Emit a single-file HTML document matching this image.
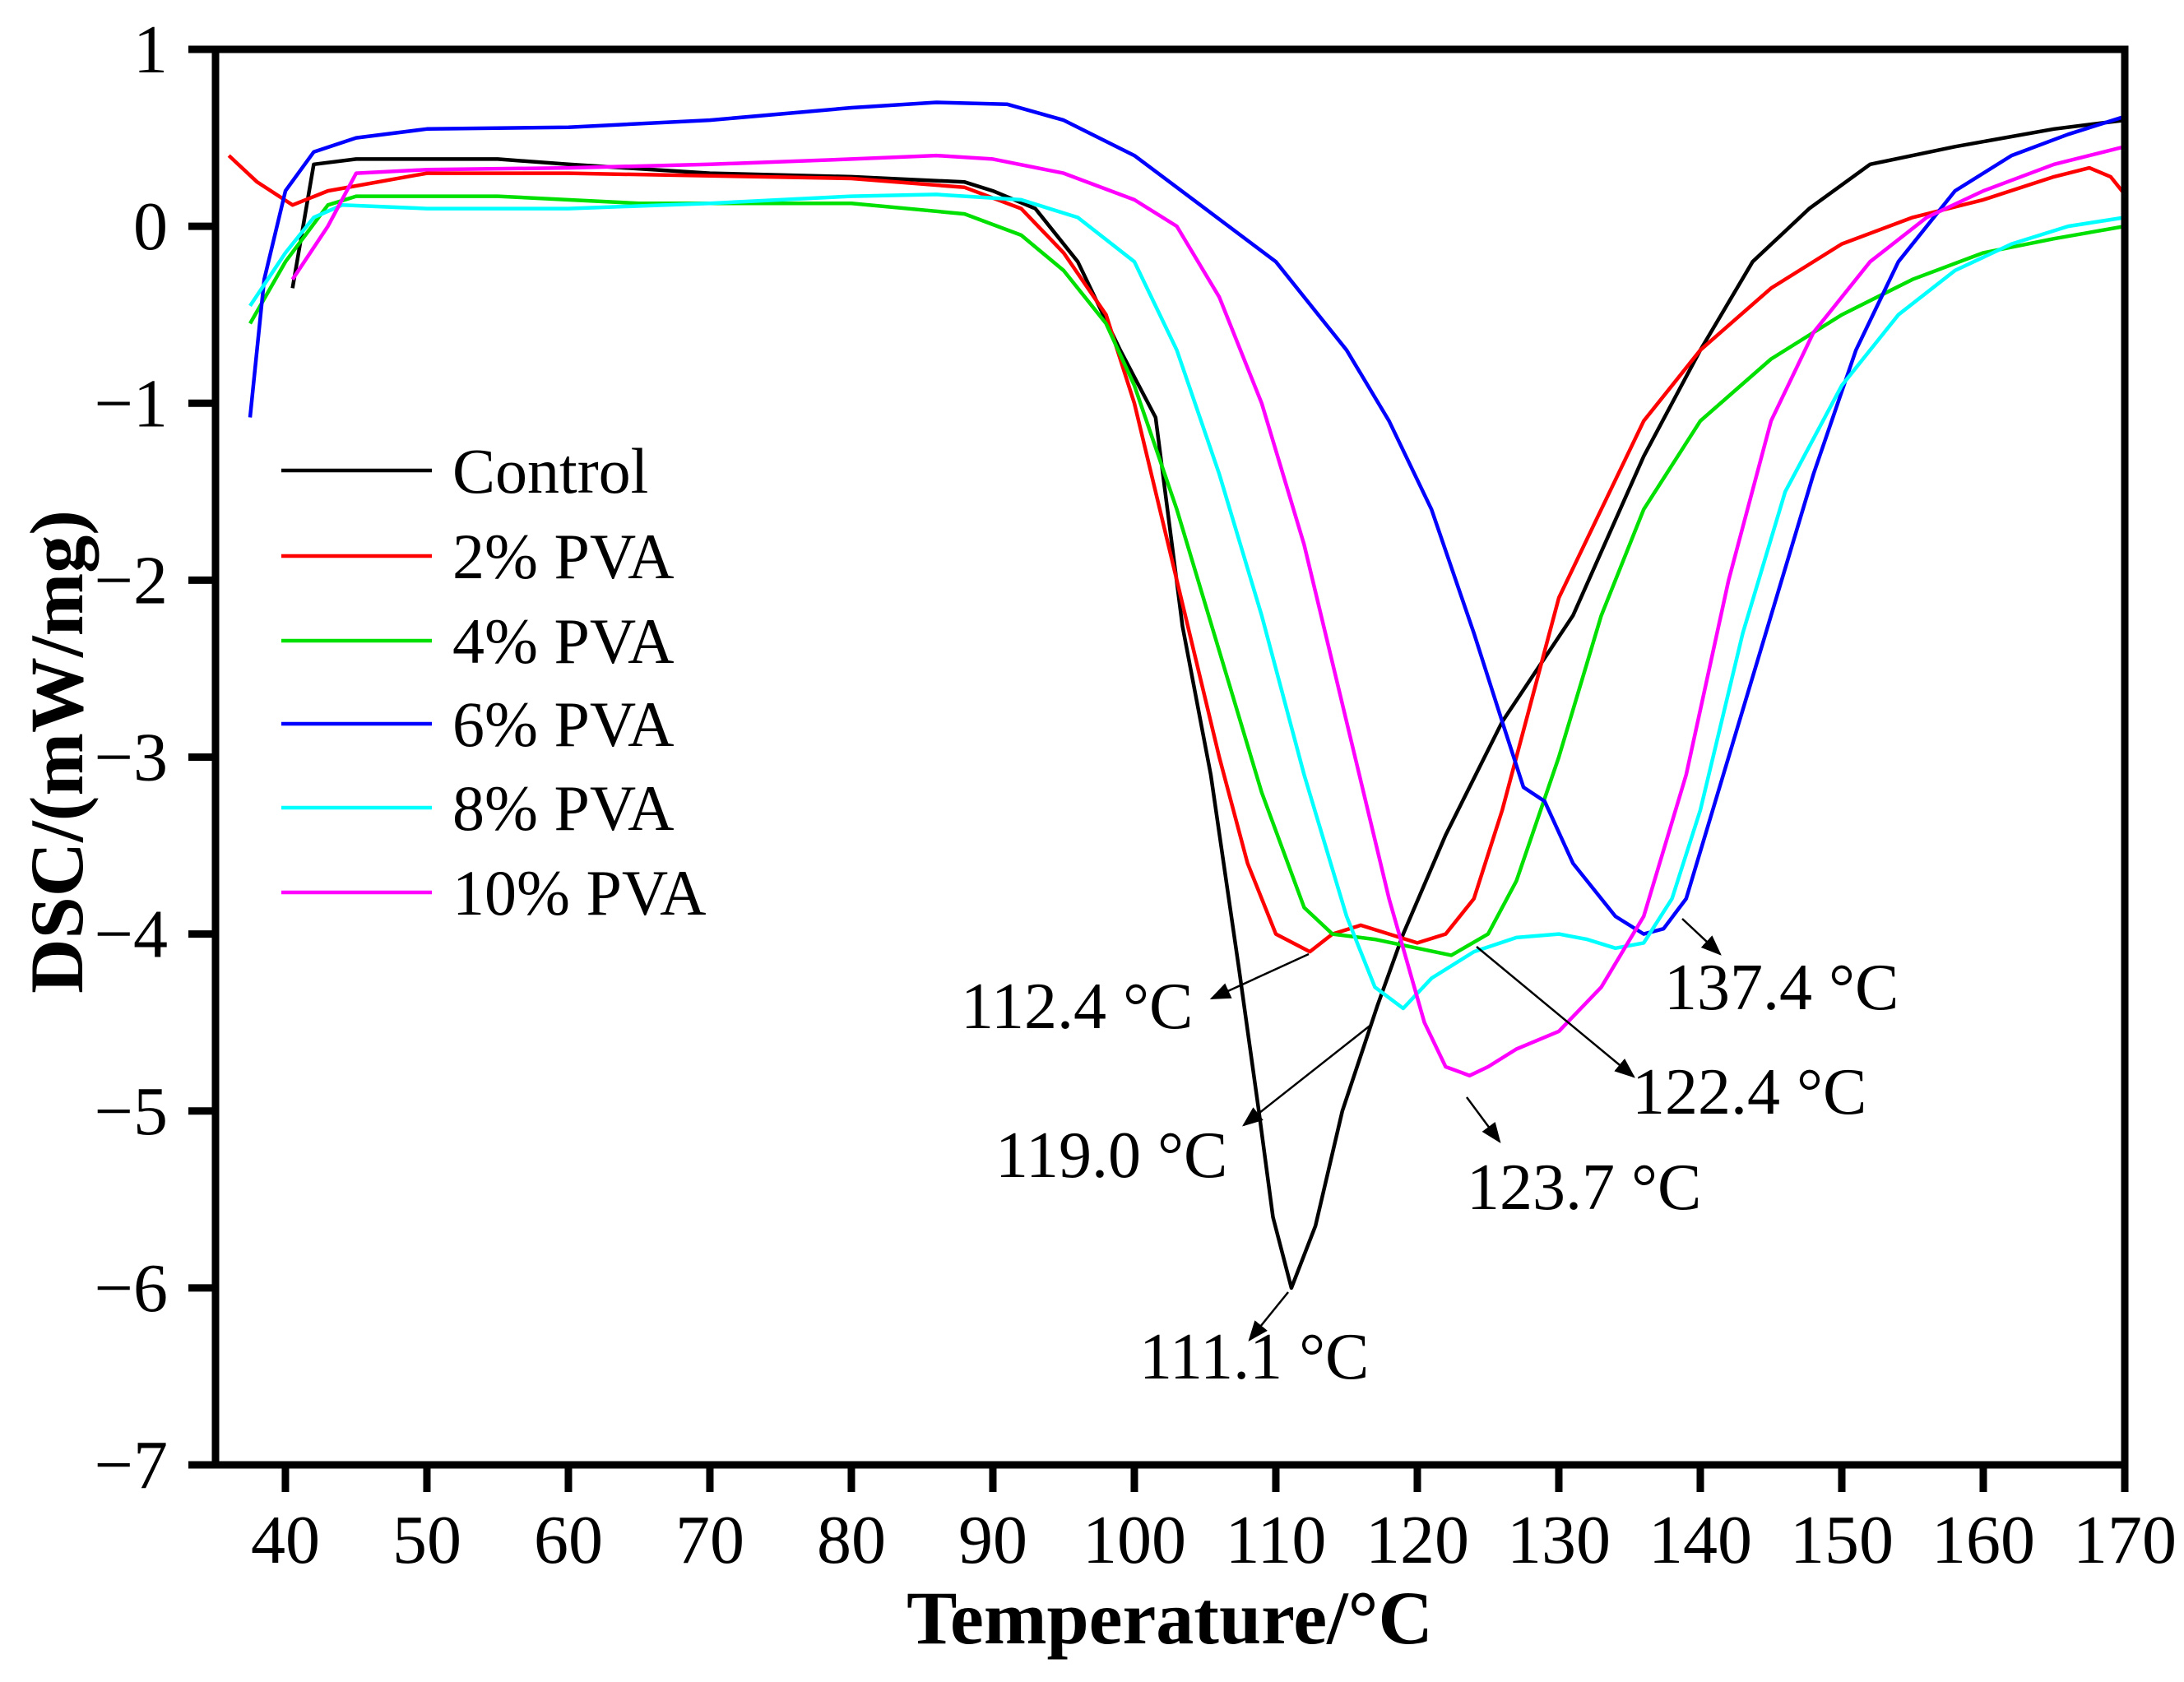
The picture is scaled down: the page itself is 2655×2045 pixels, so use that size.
<!DOCTYPE html>
<html><head><meta charset="utf-8"><style>
html,body{margin:0;padding:0;background:#fff;}
svg text{font-family:"Liberation Serif",serif;fill:#000;}
</style></head><body>
<svg id="chart" width="2655" height="2040" viewBox="0 0 2655 2040" xmlns="http://www.w3.org/2000/svg">
<g id="plot"></g>
</svg>
<script>
const xTicks=[40,50,60,70,80,90,100,110,120,130,140,150,160,170];
const yTicks=[1,0,-1,-2,-3,-4,-5,-6,-7];
const seriesNames=["Control","2% PVA","4% PVA","6% PVA","8% PVA","10% PVA"];
const seriesColors=["#000000","#ff0000","#00e000","#0000ff","#00ffff","#ff00ff"];
const ctrlX=[40.5,42,45,55,60,70,80,88,90,93,96,99,101.5,103.4,105.4,107.4,108.8,109.8,111.1,112.8,114.7,117.2,119,122,126,131,136,140,143.7,147.7,152,158,165,170];
const ctrlY=[-0.35,0.35,0.38,0.38,0.35,0.3,0.28,0.25,0.2,0.1,-0.2,-0.7,-1.08,-2.26,-3.1,-4.2,-5.0,-5.6,-6.0,-5.65,-5.0,-4.4,-4.0,-3.44,-2.8,-2.2,-1.3,-0.7,-0.2,0.1,0.35,0.45,0.55,0.6];
const redX=[36,38,40.5,43,50,60,80,88,92,95,98,100,103,106,108,110,112.4,114,116,118,120,122,124,126,128,130,133,136,140,145,150,155,160,165,167.5,169,170];
const redY=[0.4,0.25,0.12,0.2,0.3,0.3,0.27,0.22,0.1,-0.15,-0.5,-1.0,-2.0,-3.0,-3.6,-4.0,-4.1,-4.0,-3.95,-4.0,-4.05,-4.0,-3.8,-3.3,-2.7,-2.1,-1.6,-1.1,-0.7,-0.35,-0.1,0.05,0.15,0.28,0.33,0.28,0.18];
const greenX=[37.5,40,43,45,55,65,80,88,92,95,98,100,103,106,109,112,114,117,120,122.4,125,127,130,133,136,140,145,150,155,160,165,170];
const greenY=[-0.55,-0.2,0.12,0.17,0.17,0.13,0.13,0.07,-0.05,-0.25,-0.55,-0.9,-1.6,-2.4,-3.2,-3.85,-4.0,-4.03,-4.08,-4.12,-4.0,-3.7,-3.0,-2.2,-1.6,-1.1,-0.75,-0.5,-0.3,-0.15,-0.07,0.0];
const blueX=[37.5,38.5,40,42,45,50,60,70,80,86,91,95,100,105,110,115,118,121,124,126,127.5,129,131,134,136,137.4,139,142,145,148,151,154,158,162,166,170];
const blueY=[-1.08,-0.3,0.2,0.42,0.5,0.55,0.56,0.6,0.67,0.7,0.69,0.6,0.4,0.1,-0.2,-0.7,-1.1,-1.6,-2.3,-2.8,-3.17,-3.25,-3.6,-3.9,-4.0,-3.97,-3.8,-3.0,-2.2,-1.4,-0.7,-0.2,0.2,0.4,0.52,0.62];
const cyanX=[37.5,40,42,44,50,60,70,80,86,92,96,100,103,106,109,112,115,117,119,121,124,127,130,132,134,136,138,140,143,146,150,154,158,162,166,170];
const cyanY=[-0.45,-0.15,0.05,0.12,0.1,0.1,0.13,0.17,0.18,0.15,0.05,-0.2,-0.7,-1.4,-2.2,-3.1,-3.9,-4.3,-4.42,-4.25,-4.1,-4.02,-4.0,-4.03,-4.08,-4.05,-3.8,-3.3,-2.3,-1.5,-0.9,-0.5,-0.25,-0.1,0.0,0.05];
const magX=[40.5,43,45,50,60,70,80,86,90,95,100,103,106,109,112,115,118,120.5,122,123.7,125,127,130,133,136,139,142,145,148,152,156,160,165,170];
const magY=[-0.3,0.0,0.3,0.32,0.33,0.35,0.38,0.4,0.38,0.3,0.15,0.0,-0.4,-1.0,-1.8,-2.8,-3.8,-4.5,-4.75,-4.8,-4.75,-4.65,-4.55,-4.3,-3.9,-3.1,-2.0,-1.1,-0.6,-0.2,0.05,0.2,0.35,0.45];
const seriesX=[ctrlX,redX,greenX,blueX,cyanX,magX];
const seriesY=[ctrlY,redY,greenY,blueY,cyanY,magY];
const annLabels=["112.4 °C","119.0 °C","111.1 °C","123.7 °C","122.4 °C","137.4 °C"];

const L=262,R=2583,T=60,B=1781,XMIN=35.06,XMAX=170,YMIN=-7,YMAX=1;
const sx=v=>L+(v-XMIN)/(XMAX-XMIN)*(R-L);
const sy=v=>B-(v-YMIN)/(YMAX-YMIN)*(B-T);
const NS="http://www.w3.org/2000/svg";
const g=document.getElementById('plot');
function mk(tag,at,parent){const e=document.createElementNS(NS,tag);for(const k in at)e.setAttribute(k,at[k]);(parent||g).appendChild(e);return e;}

for(let s=0;s<seriesX.length;s++){
  const pts=seriesX[s].map((x,i)=>sx(x).toFixed(1)+","+sy(seriesY[s][i]).toFixed(1)).join(" ");
  const pl=mk('polyline',{points:pts,fill:'none',stroke:seriesColors[s],'stroke-width':4.5,'stroke-linejoin':'round'});
  
  
}
const fr=mk('rect',{x:L,y:T,width:R-L,height:B-T,fill:'none',stroke:'#000','stroke-width':9});


xTicks.forEach(v=>{
  const t=mk('line',{x1:sx(v),x2:sx(v),y1:B,y2:B+33,stroke:'#000','stroke-width':9});
  
  
  const tx=mk('text',{x:sx(v),y:B+119,'text-anchor':'middle','font-size':84});
  tx.textContent=v;
  
  
});
yTicks.forEach(v=>{
  const t=mk('line',{x1:L-33,x2:L,y1:sy(v),y2:sy(v),stroke:'#000','stroke-width':9});
  
  
  const tx=mk('text',{x:L-58,y:sy(v)+28,'text-anchor':'end','font-size':84});
  tx.textContent=v<0?'\u2212'+(-v):v;
  
  
});
const xt=mk('text',{x:1422,y:1998,'text-anchor':'middle','font-size':92,'font-weight':'bold'});
xt.textContent='Temperature/°C';


const yt=mk('text',{x:0,y:0,'text-anchor':'middle','font-size':92,'font-weight':'bold',transform:'translate(100,914) rotate(-90)'});
yt.textContent='DSC/(mW/mg)';


const legY=[572,676,779,880,982,1085];
seriesNames.forEach((n,i)=>{
  const ln=mk('line',{x1:342,x2:525,y1:legY[i],y2:legY[i],stroke:seriesColors[i],'stroke-width':4.5});
  
  
  const tx=mk('text',{x:550,y:legY[i]+27,'font-size':78});
  tx.textContent=n;
  
  
});
const annLines=[[1591,1160,1473,1214],[1668,1245,1512,1368],[1566,1571,1519,1629],[1783,1334,1823,1388],[1795,1151,1986,1309],[2045,1117,2091,1160]];
const annText=[[1168,1250],[1210,1431],[1385,1676],[1783,1470],[1984,1354],[2023,1227]];
mk('defs',{}).innerHTML='<marker id="ah" markerWidth="10" markerHeight="8" refX="9" refY="4" orient="auto" markerUnits="strokeWidth"><path d="M0,0 L10,4 L0,8 z" fill="#000"/></marker>';
annLabels.forEach((s,i)=>{
  const a=annLines[i];
  const ln=mk('line',{x1:a[0],y1:a[1],x2:a[2],y2:a[3],stroke:'#000','stroke-width':2.5,'marker-end':'url(#ah)'});
  
  
  const tx=mk('text',{x:annText[i][0],y:annText[i][1],'font-size':80});
  tx.textContent=s;
  
  
});
</script>
</body></html>
